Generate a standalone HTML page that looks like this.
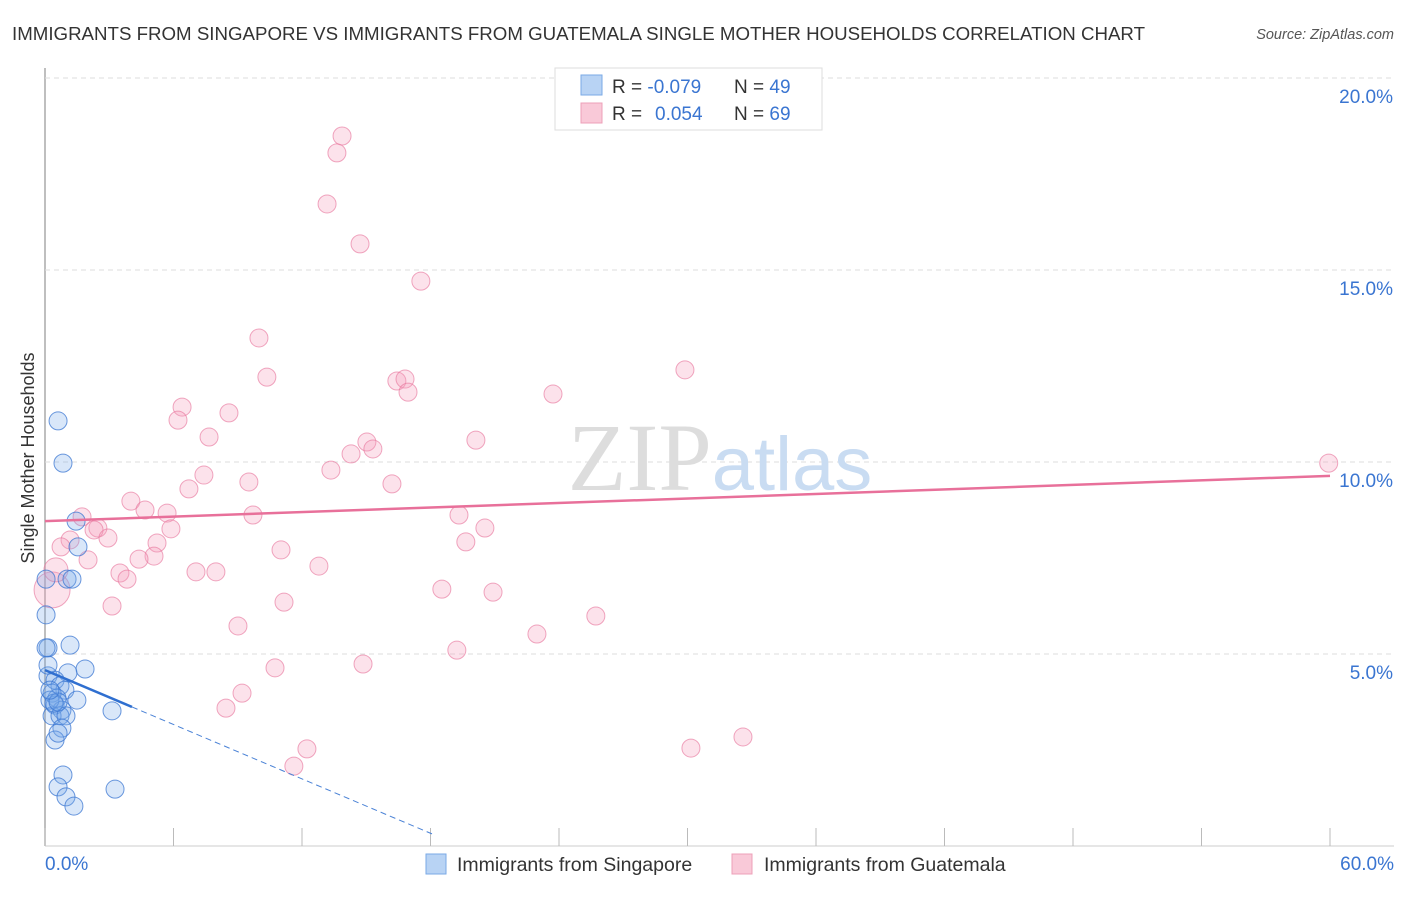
<!DOCTYPE html>
<html><head><meta charset="utf-8"><style>
body{margin:0;background:#fff;font-family:"Liberation Sans",sans-serif;}
</style></head><body>
<svg id="chart" width="1406" height="892" xmlns="http://www.w3.org/2000/svg" style="font-family:'Liberation Sans',sans-serif">
<text x="12" y="40" font-size="18" fill="#333" textLength="1133" lengthAdjust="spacingAndGlyphs">IMMIGRANTS FROM SINGAPORE VS IMMIGRANTS FROM GUATEMALA SINGLE MOTHER HOUSEHOLDS CORRELATION CHART</text>
<text x="1394" y="39" font-size="14.5" fill="#555" font-style="italic" text-anchor="end">Source: ZipAtlas.com</text>
<text x="34" y="458" font-size="18" fill="#333" text-anchor="middle" transform="rotate(-90 34 458)">Single Mother Households</text>
<g id="grid"></g>
<text x="720" y="490" font-size="96" fill="#ddd" text-anchor="middle" font-family="Liberation Serif">ZIP<tspan fill="#c9dcf2" font-family="Liberation Sans" font-size="76">atlas</tspan></text>
<g id="points"></g>
<g id="trends"></g>
<g>
<rect x="555" y="68" width="267" height="62" fill="#fff" stroke="#ddd"/>
<rect x="581" y="75" width="21" height="20" fill="#b8d3f4" stroke="#7aaae6"/>
<rect x="581" y="103" width="21" height="20" fill="#f9c9d8" stroke="#eda0b8"/>
<text x="612" y="93" font-size="19" fill="#333">R = <tspan fill="#3a75d1">-0.079</tspan></text>
<text x="734" y="93" font-size="19" fill="#333">N = <tspan fill="#3a75d1">49</tspan></text>
<text x="612" y="120" font-size="19" fill="#333">R = <tspan fill="#3a75d1" x="655">0.054</tspan></text>
<text x="734" y="120" font-size="19" fill="#333">N = <tspan fill="#3a75d1">69</tspan></text>
</g>
<g>
<rect x="426" y="854" width="20" height="20" fill="#b8d3f4" stroke="#7aaae6"/>
<text x="457" y="871" font-size="19.5" fill="#333">Immigrants from Singapore</text>
<rect x="732" y="854" width="20" height="20" fill="#f9c9d8" stroke="#eda0b8"/>
<text x="764" y="871" font-size="19.5" fill="#333">Immigrants from Guatemala</text>
</g>
</svg>
<script>
const xTickVals=[0,6,12,18,24,30,36,42,48,54,60];
const yTickVals=[5,10,15,20];
const yTickLabels=["5.0%","10.0%","15.0%","20.0%"];
const xEdgeLabels=["0.0%","60.0%"];
const blueX=[0.61,0.84,1.45,1.54,1.03,1.26,0.05,0.05,0.14,1.17,1.87,1.07,0.14,0.47,0.70,0.93,0.33,0.56,1.49,0.47,0.79,0.33,0.70,0.98,3.13,0.79,0.47,0.61,0.84,0.61,0.98,1.35,3.27,0.14,0.23,0.42,0.61,0.23,0.05];
const blueY=[11.07,9.97,8.46,7.79,6.95,6.95,6.95,6.02,5.16,5.23,4.61,4.51,4.43,4.32,4.17,4.06,3.98,3.85,3.80,3.67,3.54,3.39,3.39,3.39,3.52,3.07,2.76,2.94,1.85,1.54,1.28,1.04,1.48,4.71,3.80,3.72,3.75,4.06,5.16];
const pinkX=[13.87,13.63,13.17,14.71,17.55,9.99,10.36,16.43,16.81,16.95,23.72,29.88,6.40,6.21,8.59,7.66,20.12,15.03,15.31,14.29,13.35,7.42,9.52,6.72,16.20,4.01,4.67,5.70,9.71,19.33,1.73,2.47,2.29,5.88,2.94,1.17,0.75,19.65,20.54,5.23,5.09,4.39,2.01,11.02,12.79,3.50,3.83,7.05,7.98,18.53,20.92,3.13,11.16,25.72,9.01,22.97,19.23,14.85,10.74,9.20,8.45,12.23,11.62,30.16,32.59,59.94,0.33,0.51];
const pinkY=[18.49,18.05,16.72,15.68,14.71,13.23,12.21,12.11,12.16,11.82,11.77,12.40,11.43,11.09,11.28,10.65,10.57,10.52,10.34,10.21,9.79,9.66,9.48,9.30,9.43,8.98,8.75,8.67,8.62,8.62,8.57,8.28,8.23,8.26,8.02,7.97,7.79,7.92,8.28,7.89,7.55,7.47,7.45,7.71,7.29,7.11,6.95,7.14,7.14,6.69,6.61,6.25,6.35,5.99,5.73,5.52,5.10,4.74,4.64,3.98,3.59,2.53,2.08,2.55,2.84,9.97,6.67,7.19];
const pinkTrend=[8.46,9.64];
const blueTrend=[4.58,-0.236];
const blueSolidEnd=4.06, blueDashEnd=18.07;

const NS="http://www.w3.org/2000/svg";
const X0=45,X1=1330,Y0=846,PPY=38.4;
const sx=v=>X0+(X1-X0)*v/60;
const sy=v=>Y0-v*PPY;
function mk(tag,attrs,parent){const e=document.createElementNS(NS,tag);for(const k in attrs)e.setAttribute(k,attrs[k]);parent.appendChild(e);return e;}
const grid=document.getElementById('grid');
let ax=mk('line',{x1:X0,y1:68,x2:X0,y2:846,stroke:'#aaa','stroke-width':1.5},grid);


let bx=mk('line',{x1:X0,y1:846,x2:1394,y2:846,stroke:'#ccc'},grid);


yTickVals.forEach((v,i)=>{
  let l=mk('line',{x1:X0,x2:1394,y1:sy(v),y2:sy(v),stroke:'#ddd','stroke-dasharray':'5,4'},grid);
  
  
  let t=mk('text',{x:1393,y:sy(v)+25,'font-size':19,fill:'#3a75d1','text-anchor':'end'},grid);
  t.textContent=yTickLabels[i];
  
  
});
xTickVals.forEach(v=>{
  let l=mk('line',{x1:sx(v),x2:sx(v),y1:828,y2:846,stroke:'#bbb'},grid);
  
  
});
let t0=mk('text',{x:45,y:870,'font-size':19,fill:'#3a75d1'},grid);t0.textContent=xEdgeLabels[0];


let t1=mk('text',{x:1394,y:870,'font-size':19,fill:'#3a75d1','text-anchor':'end'},grid);t1.textContent=xEdgeLabels[1];



const pts=document.getElementById('points');
pinkX.forEach((x,i)=>{
  const r=i===pinkX.length-2?18:(i===pinkX.length-1?12:9);
  let c=mk('circle',{cx:sx(x),cy:sy(pinkY[i]),r:r,fill:'rgba(244,160,188,0.3)',stroke:'rgba(232,120,158,0.65)','stroke-width':1},pts);
  
  
});
blueX.forEach((x,i)=>{
  let c=mk('circle',{cx:sx(x),cy:sy(blueY[i]),r:9,fill:'rgba(120,168,232,0.28)',stroke:'rgba(58,117,209,0.75)','stroke-width':1},pts);
  
  
});
const tr=document.getElementById('trends');
let pl=mk('line',{x1:sx(0),y1:sy(pinkTrend[0]),x2:sx(60),y2:sy(pinkTrend[1]),stroke:'#e8709a','stroke-width':2.5},tr);


const by=x=>blueTrend[0]+blueTrend[1]*x;
let bl=mk('line',{x1:sx(0),y1:sy(by(0)),x2:sx(blueSolidEnd),y2:sy(by(blueSolidEnd)),stroke:'#2f6fd0','stroke-width':2.5},tr);


let bd=mk('line',{x1:sx(blueSolidEnd),y1:sy(by(blueSolidEnd)),x2:sx(blueDashEnd),y2:sy(by(blueDashEnd)),stroke:'#4a82d6','stroke-width':1,'stroke-dasharray':'6,4'},tr);


</script>
</body></html>
